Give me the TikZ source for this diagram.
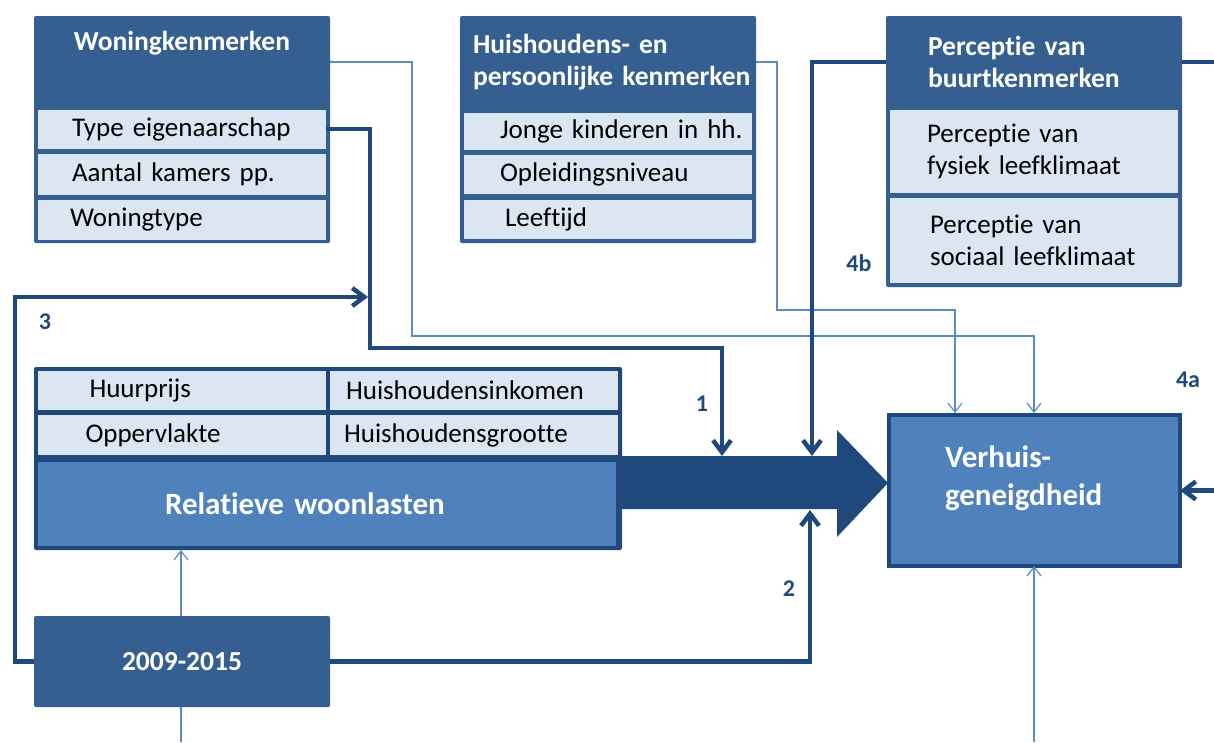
\documentclass[tikz,border=0pt]{standalone}
\usepackage{fontspec}
\setmainfont{Carlito}[Ligatures=NoCommon]
\usetikzlibrary{positioning,calc,arrows.meta}
\definecolor{headblue}{RGB}{54,95,145}
\definecolor{navy}{RGB}{31,73,125}
\definecolor{midblue}{RGB}{79,129,189}
\definecolor{paleblue}{RGB}{220,230,242}
\definecolor{thinblue}{RGB}{91,139,199}
\newcommand{\padleft}[1]{\hspace*{#1pt}}

\begin{document}
\begin{tikzpicture}[x=1pt,y=1pt]
  \tikzstyle{every node}=[inner sep=0,outer sep=0]
  \tikzstyle{card}=[fill=headblue,rounded corners=2]
  \tikzstyle{frame}=[fill=navy,rounded corners=2]
  \tikzstyle{head}=[minimum width=296,minimum height=92,text width=296,text=white,align=left,font=\fontsize{27.5}{32}\selectfont\bfseries]
  \tikzstyle{item}=[fill=paleblue,minimum width=288,text width=288,align=left,font=\fontsize{27}{32}\selectfont]
  \tikzstyle{core}=[fill=midblue,text=white,align=left,font=\fontsize{31}{38}\selectfont\bfseries]
  \tikzstyle{tag}=[text=navy,font=\fontsize{24}{28}\selectfont\bfseries]
  \tikzstyle{link}=[draw=navy,line width=4.5,-{Straight Barb[length=12pt,width=18pt]}]
  \tikzstyle{feed}=[draw=thinblue,line width=1.2,-{Straight Barb[length=9pt,width=14pt]}]

  \useasboundingbox (0,0) rectangle (1214,-742);

  % woningkenmerken
  \node[card,minimum width=296,minimum height=227] (won) at (182,-129.5) {};
  \node[head,align=center] (wonHead) at (182,-62) {Woningkenmerken\\\strut};
  \node[item,minimum height=39] (wonA) at (182,-129) {\padleft{34}Type eigenaarschap};
  \node[item,minimum height=41] (wonB) at (182,-174) {\padleft{34}Aantal kamers pp.};
  \node[item,minimum height=40] (wonC) at (182,-219.5) {\padleft{32}Woningtype};

  % huishoudens
  \node[card,minimum width=296,minimum height=227] (huis) at (608,-129.5) {};
  \node[head] (huisHead) at (608,-62) {\padleft{13}Huishoudens- en\\\padleft{13}persoonlijke kenmerken};
  \node[item,minimum height=37] (huisA) at (608,-131.5) {\padleft{36}Jonge kinderen in hh.};
  \node[item,minimum height=39] (huisB) at (608,-174.5) {\padleft{36}Opleidingsniveau};
  \node[item,minimum height=39] (huisC) at (608,-219) {\padleft{41}Leeftijd};

  % perceptie buurt
  \node[card,minimum width=296,minimum height=271] (perc) at (1034,-151.5) {};
  \node[head] (percHead) at (1034,-62) {\padleft{42}Perceptie van\\\padleft{42}buurtkenmerken};
  \node[item,minimum height=83] (percA) at (1034,-151.5) {\padleft{37}Perceptie van\\\padleft{37}fysiek leefklimaat};
  \node[item,minimum height=85] (percB) at (1034,-240) {\padleft{40}Perceptie van\\\padleft{40}sociaal leefklimaat};

  % woonlasten
  \node[frame,minimum width=588,minimum height=183] (rel) at (328,-458.5) {};
  \node[item,minimum height=39] (relA) at (181.5,-390.5) {\padleft{52}Huurprijs};
  \node[item,minimum height=39] (relB) at (474,-390.5) {\padleft{16}Huishoudensinkomen};
  \node[item,minimum height=40] (relC) at (181.5,-435) {\padleft{48}Oppervlakte};
  \node[item,minimum height=40] (relD) at (474,-435) {\padleft{14}Huishoudensgrootte};
  \node[core,minimum width=578,text width=578,minimum height=84] (relMain) at (327,-503.5) {\padleft{127}Relatieve woonlasten};

  % uitkomst
  \node[core,draw=navy,line width=4,minimum width=291,text width=291,minimum height=151,text height=23,text depth=70] (verh) at (1034.5,-490.5) {\padleft{56}Verhuis-\\\padleft{56}geneigdheid};

  % dunne pijlen
  \coordinate (tA) at (1034,-413);
  \coordinate (tB) at (955,-413);
  \coordinate (b1) at (181,-742);
  \coordinate (b2) at (1034,-742);
  \draw[feed] (wonHead.east) -| (412,-336) -| (tA);
  \draw[feed] (huisHead.east) -| (777,-310) -| (tB);
  \draw[feed] (b1) -- (b1 |- rel.south);
  \draw[feed] (b2) -- (b2 |- verh.south);

  \node[card,minimum width=296,minimum height=91,text=white,font=\fontsize{27.5}{32}\selectfont\bfseries] (year) at (182,-661.5) {2009-2015};

  % grote pijl
  \fill[navy] (622,-456) -- (837,-456) -- (837,-430) -- (888,-483) -- (837,-537) -- (837,-509) -- (622,-509) -- cycle;

  % dikke pijlen
  \coordinate (in1) at (722,-456);
  \coordinate (in2) at (810,-510);
  \coordinate (in3) at (368,-297);
  \coordinate (in4) at (812,-456);
  \draw[link] (wonA.east) -| (370,-348) -| (in1);
  \draw[link] (year.west) -| (15,-297) -- (in3);
  \draw[link] (year.east) -| (in2);
  \draw[link] (percHead.west) -| (in4);
  \draw[link] (percHead.east) -- (1232,-62) |- (verh.east);

  \node[tag] (lab1) at (702,-404) {1};
  \node[tag] (lab2) at (789,-589) {2};
  \node[tag] (lab3) at (45,-322) {3};
  \node[tag] (lab4a) at (1188,-380) {4a};
  \node[tag] (lab4b) at (859,-263) {4b};
\end{tikzpicture}
\end{document}
